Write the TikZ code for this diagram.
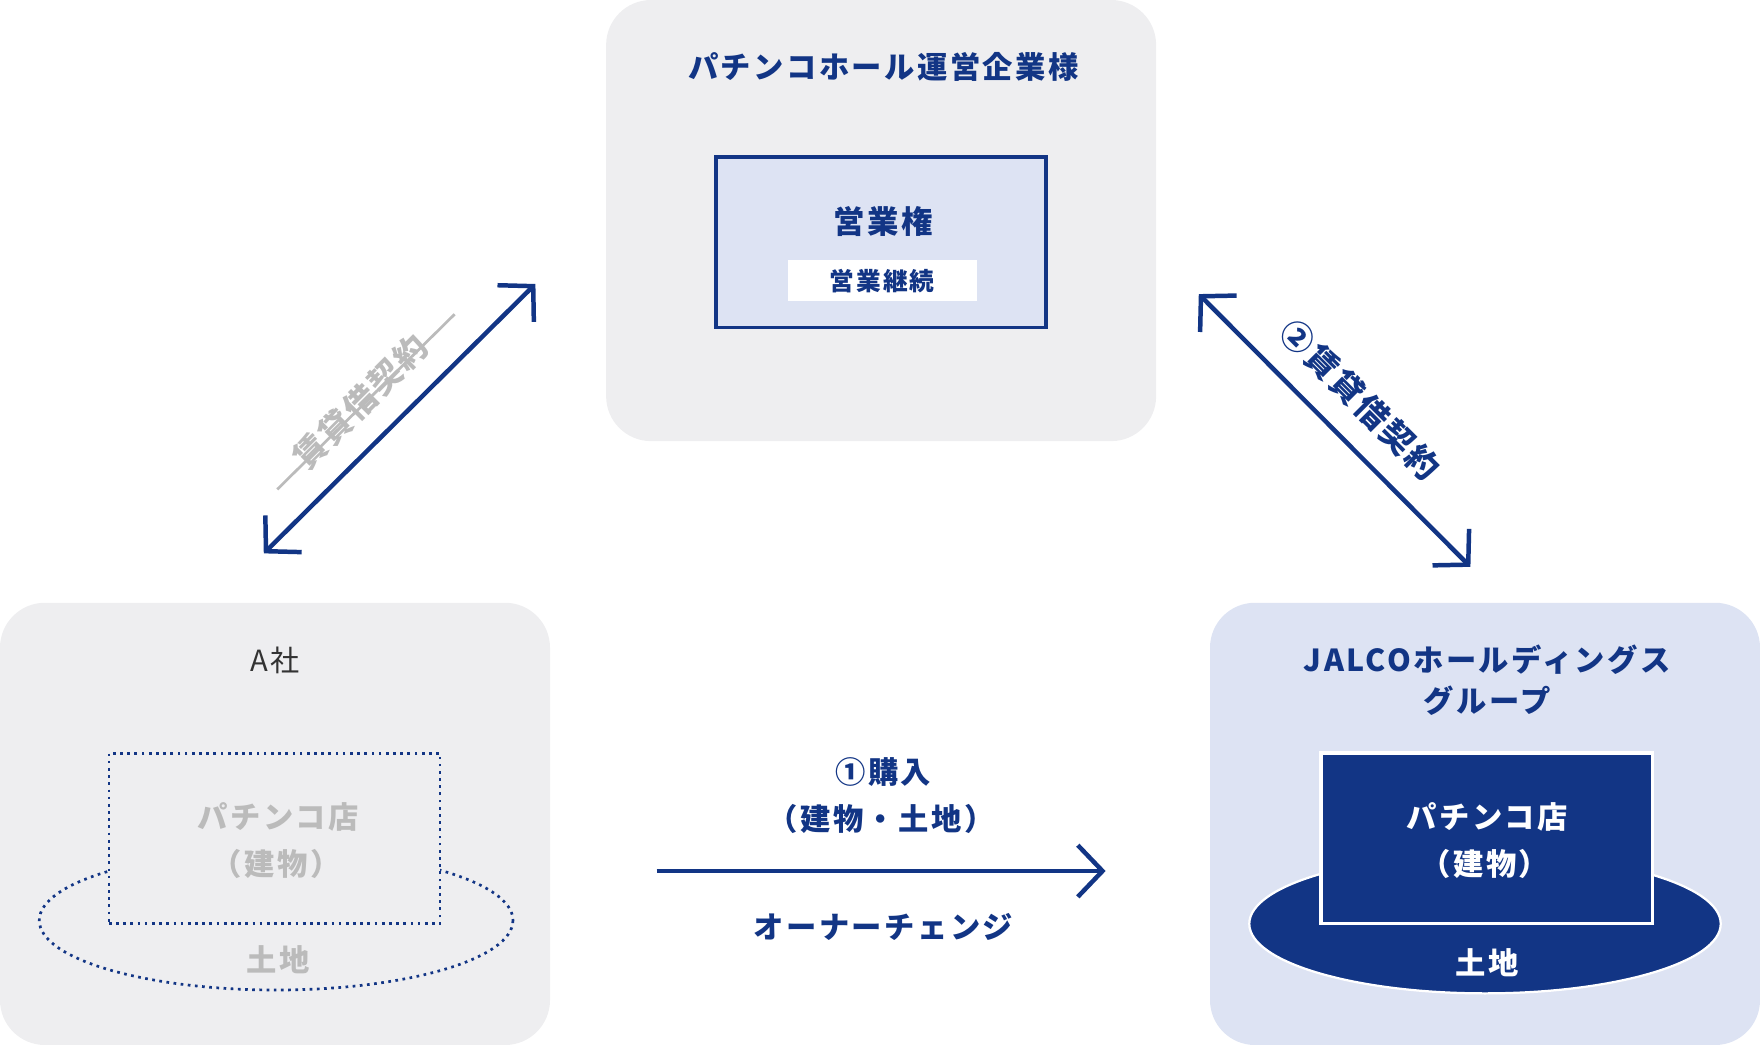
\documentclass[tikz,border=0pt]{standalone}
\usepackage{fontspec}
\setmainfont{Noto Sans CJK JP}[LetterSpace=8]
\usetikzlibrary{arrows.meta}
\definecolor{navy}{HTML}{123585}
\definecolor{bgg}{HTML}{EEEEF0}
\definecolor{bgb}{HTML}{DDE3F3}
\definecolor{gtx}{HTML}{BBBBBB}
\begin{document}
\begin{tikzpicture}[x=0.5pt,y=-0.5pt,
 t/.style={font=\fontsize{13.5}{15}\selectfont\bfseries, text=navy, inner sep=0},
 g/.style={font=\fontsize{13.5}{15}\selectfont\bfseries, text=gtx, inner sep=0},
 ar/.style={navy, line width=2pt, {Straight Barb[length=11pt,width=23pt]}-{Straight Barb[length=11pt,width=23pt]}}]
\useasboundingbox (0,0) rectangle (1568,931);
% top
\fill[bgg, rounded corners=20pt] (540,0) rectangle (1030,393);
\node[t] (top) at (787,60) {パチンコホール運営企業様};
\node[draw=navy, fill=bgb, line width=1.5pt, minimum width=147pt, minimum height=76pt, inner sep=0] (eig) at (785,216) {};
\node[t, font=\fontsize{14}{16}\selectfont\bfseries] (eik) at (787,197) {営業権};
\node[fill=white, minimum width=84pt, minimum height=18.5pt, inner sep=0, font=\fontsize{11}{13}\selectfont\bfseries, text=navy] (kei) at (786,250) {営業継続};
% left
\fill[bgg, rounded corners=20pt] (0,537) rectangle (490,931);
\node[font=\fontsize{13}{15}\selectfont, text=black!80, inner sep=0] (a) at (245,588) {A社};
\draw[navy, line width=1.2pt, dotted] (246,820) ellipse [x radius=211, y radius=62];
\node[draw=navy, line width=1.2pt, dotted, fill=bgg, minimum width=147.5pt, minimum height=76pt, inner sep=0] (ashop) at (244.5,747) {};
\node[g] at (248,728) {パチンコ店};
\node[g] at (246,770) {（建物）};
\node[g] (aland) at (248,855) {土地};
% right
\fill[bgb, rounded corners=20pt] (1078,537) rectangle (1568,931);
\node[t] at (1325,588) {JALCOホールディングス};
\node[t] at (1325,624) {グループ};
\fill[navy, draw=white, line width=1pt] (1323,823) ellipse [x radius=210, y radius=62];
\node[draw=white, fill=navy, line width=1.5pt, minimum width=147.5pt, minimum height=76pt, inner sep=0] (jshop) at (1324.5,747) {};
\node[t, text=white] at (1325,728) {パチンコ店};
\node[t, text=white] at (1323,770) {（建物）};
\node[t, text=white] at (1325,858) {土地};
% middle
\coordinate (m1) at (585,776); \coordinate (m2) at (985,776);
\draw[navy, line width=2pt, -{Straight Barb[length=11pt,width=23pt]}] (m1) -- (m2);
\node[t] at (787,688) {①購入};
\node[t] at (785,730) {（建物・土地）};
\node[t] at (787,826) {オーナーチェンジ};
% diagonals
\coordinate (l1) at (235,493); \coordinate (l2) at (477,253);
\draw[ar] (l1) -- (l2);
\node[g, rotate=45, font=\fontsize{14.5}{16}\selectfont\bfseries] at (321,358) {賃貸借契約};
\draw[gtx, line width=1.2pt] (247,436) -- (405,280);
\coordinate (r1) at (1068,262); \coordinate (r2) at (1310,505);
\draw[ar] (r1) -- (r2);
\node[t, rotate=-45, font=\fontsize{14.5}{16}\selectfont\bfseries] at (1212,356) {②賃貸借契約};
\end{tikzpicture}
\end{document}
